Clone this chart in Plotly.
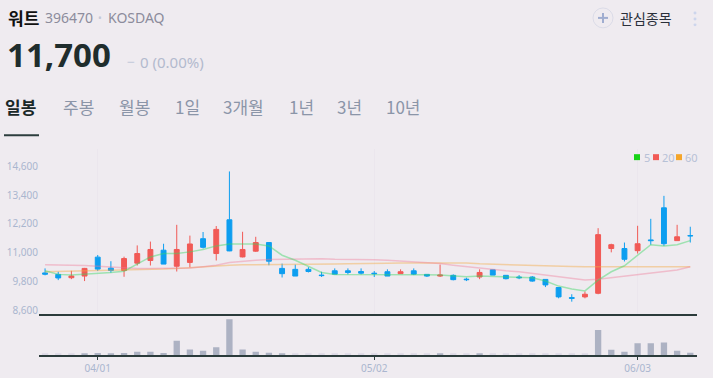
import plotly.graph_objects as go

W, H = 713, 378

# ---------------- data ----------------
dates = ["03/26", "03/27", "03/28", "03/29",
         "04/01", "04/02", "04/03", "04/04", "04/05", "04/08", "04/09", "04/11", "04/12",
         "04/15", "04/16", "04/17", "04/18", "04/19", "04/22", "04/23", "04/24", "04/25",
         "04/26", "04/29", "04/30",
         "05/02", "05/03", "05/07", "05/08", "05/09", "05/10", "05/13", "05/14", "05/16",
         "05/17", "05/20", "05/21", "05/22", "05/23", "05/24", "05/27", "05/28", "05/29",
         "05/30", "05/31",
         "06/03", "06/04", "06/05", "06/07", "06/10"]

open_ = [10150, 10090, 9950, 10020, 10810, 10350, 10250, 10560, 10670, 11100,
         10430, 10590, 11580, 10960, 12370, 10820, 11060, 11420, 10340, 10300,
         10300, 10060, 10240, 10240, 10210, 10140, 10200, 10120, 10240, 10090,
         10020, 10050, 9890, 9980, 10280, 10050, 9980, 9980, 9880, 9540,
         9120, 9150, 9300, 11170, 11170, 11080, 11530, 12870, 11500, 11710]
high = [10340, 10200, 10240, 10360, 10900, 10640, 10830, 11300, 11460, 11370,
        12160, 11710, 11860, 12110, 14390, 11870, 11660, 11420, 10540, 10500,
        10390, 10200, 10340, 10340, 10340, 10230, 10300, 10300, 10340, 10090,
        10500, 10090, 9950, 10300, 10280, 10050, 10060, 10020, 9880, 9540,
        9260, 9370, 12020, 11370, 11420, 12120, 12410, 13370, 12160, 12080]
low = [10050, 9850, 9890, 9810, 10230, 10160, 9990, 10460, 10460, 10520,
       10210, 10380, 11170, 10670, 11060, 10800, 11030, 10470, 9960, 10020,
       10170, 9980, 10100, 10090, 10090, 9980, 10020, 10120, 10060, 9980,
       9980, 9840, 9810, 9890, 10060, 9880, 9890, 9780, 9560, 9090,
       8950, 9090, 9260, 11010, 10630, 10960, 11330, 11280, 11500, 11420]
close = [10100, 9940, 10020, 10340, 10310, 10250, 10750, 10960, 11130, 10520,
         11130, 11360, 11220, 11970, 11070, 11130, 11420, 10640, 10120, 10020,
         10210, 10040, 10100, 10170, 10140, 10120, 10020, 10200, 10100, 10020,
         10060, 9870, 9870, 10170, 10060, 9910, 9950, 9810, 9650, 9150,
         9090, 9260, 11750, 11330, 10720, 11370, 11500, 11370, 11660, 11700]

ma5 = [10240, 10090, 10060, 10090, 10140, 10170, 10225, 10540, 10820, 10960,
       10960, 11030, 11125, 11280, 11360, 11360, 11360, 11280, 10890, 10680,
       10410, 10170, 10090, 10090, 10100, 10100, 10100, 10100, 10100, 10070,
       10060, 10020, 9990, 10020, 10000, 9990, 9980, 9950, 9810, 9600,
       9480, 9400, 9850, 10200, 10450, 10890, 11330, 11280, 11330, 11500]
ma20 = [10490, 10490, 10470, 10460, 10430, 10390, 10360, 10340, 10340, 10340,
        10340, 10360, 10410, 10470, 10590, 10650, 10680, 10710, 10720, 10740,
        10740, 10740, 10720, 10720, 10710, 10700, 10680, 10650, 10630, 10600,
        10540, 10470, 10410, 10340, 10300, 10240, 10200, 10130, 10060, 9990,
        9920, 9850, 9890, 9950, 10030, 10060, 10130, 10200, 10270, 10410]
ma60 = [10200, 10210, 10210, 10230, 10230, 10240, 10250, 10270, 10290, 10310,
        10340, 10380, 10410, 10440, 10470, 10490, 10490, 10490, 10490, 10500,
        10500, 10510, 10520, 10530, 10530, 10540, 10560, 10570, 10570, 10570,
        10570, 10570, 10570, 10530, 10510, 10490, 10470, 10460, 10440, 10430,
        10420, 10410, 10410, 10410, 10410, 10410, 10410, 10410, 10410, 10410]

volume = [15000, 15000, 15000, 20000, 30000, 20000, 30000, 50000, 50000, 30000,
          215000, 85000, 65000, 120000, 540000, 85000, 50000, 35000, 20000, 15000,
          15000, 15000, 15000, 15000, 15000, 15000, 15000, 15000, 15000, 15000,
          20000, 15000, 15000, 20000, 15000, 15000, 15000, 15000, 15000, 15000,
          15000, 15000, 380000, 80000, 50000, 180000, 180000, 190000, 65000, 35000]

y_ticks = [8600, 9800, 11000, 12200, 13400, 14600]
x_ticks = ["04/01", "05/02", "06/03"]

# ---------------- style ----------------
BG = "#efebf0"
RED = "#f15a56"
BLUE = "#0d9ef0"
AXIS = "#2b3b3b"
TICKC = "#aab6cf"
KFONT = "Noto Sans CJK KR"


def px(x):
    return x / W


def py(y):
    return 1 - y / H


fig = go.Figure()

fig.add_trace(go.Candlestick(
    x=dates, open=open_, high=high, low=low, close=close,
    increasing=dict(line=dict(color=RED, width=1), fillcolor=RED),
    decreasing=dict(line=dict(color=BLUE, width=1), fillcolor=BLUE),
    whiskerwidth=0, xaxis="x", yaxis="y", showlegend=False, hoverinfo="skip"))

for vals, col in [(ma60, "rgba(244,170,70,0.45)"),
                  (ma20, "rgba(240,120,150,0.40)"),
                  (ma5, "rgba(60,215,100,0.45)")]:
    fig.add_trace(go.Scatter(x=dates, y=vals, mode="lines",
                             line=dict(color=col, width=1.5),
                             xaxis="x", yaxis="y", showlegend=False, hoverinfo="skip"))

vol_colors = ["#dcd9e6" if v <= 15000 else "#adb2c3" for v in volume]
fig.add_trace(go.Bar(x=dates, y=volume, marker=dict(color=vol_colors, line=dict(width=0)),
                     xaxis="x2", yaxis="y2", showlegend=False, hoverinfo="skip"))

xdom = [39 / W, 697 / W]
xrange_ = [-0.46, 49.51]

fig.update_layout(
    width=W, height=H,
    margin=dict(l=0, r=0, t=0, b=0),
    paper_bgcolor=BG, plot_bgcolor=BG,
    bargap=0.52, boxgap=0.47,
    font=dict(family=KFONT, color=TICKC),
    xaxis=dict(domain=xdom, type="category", range=xrange_, anchor="y",
               showticklabels=False, tickvals=x_ticks, showgrid=True,
               gridcolor="rgba(215,212,228,0.18)", showline=True, linecolor=AXIS,
               linewidth=1.5, rangeslider=dict(visible=False), zeroline=False,
               fixedrange=True),
    yaxis=dict(domain=[py(316), py(150)], range=[8421, 15319], anchor="x",
               tickvals=y_ticks, ticktext=[f"{v:,}" for v in y_ticks],
               showgrid=False, zeroline=False, showline=False,
               tickfont=dict(size=10, color=TICKC, family="Noto Sans"),
               fixedrange=True),
    xaxis2=dict(domain=xdom, type="category", range=xrange_, anchor="y2",
                tickvals=x_ticks, ticktext=x_ticks, ticks="outside", ticklen=3,
                tickcolor=AXIS, showline=True, linecolor=AXIS, linewidth=1.5,
                showgrid=False, zeroline=False,
                tickfont=dict(size=10, color=TICKC, family="Noto Sans"),
                fixedrange=True),
    yaxis2=dict(domain=[py(357), py(316)], range=[0, 615000], anchor="x2",
                showticklabels=False, showgrid=False, zeroline=False,
                showline=False, fixedrange=True),
)

ann = []


def text(x, y, s, size, color, bold=False, family=KFONT, anchor="left"):
    ann.append(dict(x=px(x), y=py(y), xref="paper", yref="paper", text=f"<b>{s}</b>" if bold else s,
                    showarrow=False, xanchor=anchor, yanchor="middle",
                    font=dict(size=size, color=color, family=family)))


# header
text(6, 18, "워트", 17, "#111111", bold=True)
text(43, 18, "396470", 14, "#8c8c9c", family="Noto Sans")
text(96, 18, "•", 10, "#c4c8d6", family="Noto Sans")
text(106, 18, "KOSDAQ", 14, "#8c8c9c", family="Noto Sans")
text(5, 55, "11,700", 33, "#1f2d2d", bold=True, family="Noto Sans")
text(125, 62, "−", 14, "#c4cadb", family="Noto Sans")
text(138, 62, "0 (0.00%)", 15, "#b3bace", family="Noto Sans")
text(618, 18, "관심종목", 14, "#2a2f3a")

# tabs
text(3, 107, "일봉", 17, "#1a2828", bold=True)
tabs = [(61, "주봉"), (117, "월봉"), (173, "1일"), (221, "3개월"), (287, "1년"), (335, "3년"), (384, "10년")]
for x, s in tabs:
    text(x, 107, s, 17, "#8b95a8")

# legend
text(642, 158, "5", 11, "#b7c1d6", family="Noto Sans")
text(660, 158, "20", 11, "#b7c1d6", family="Noto Sans")
text(683, 158, "60", 11, "#b7c1d6", family="Noto Sans")

fig.update_layout(annotations=ann)

shapes = []


def rect(x0, y0, x1, y1, color):
    shapes.append(dict(type="rect", xref="paper", yref="paper", x0=px(x0), x1=px(x1),
                       y0=py(y1), y1=py(y0), fillcolor=color, line=dict(width=0)))


rect(634, 155, 640, 161, "#17d317")
rect(653, 155, 659, 161, "#f15a56")
rect(676, 155, 682, 161, "#f5a52a")

# tab underline
shapes.append(dict(type="line", xref="paper", yref="paper", x0=px(4), x1=px(39),
                   y0=py(136), y1=py(136), line=dict(color="#2c3e3e", width=2)))

# plus icon
shapes.append(dict(type="circle", xref="paper", yref="paper", x0=px(593), x1=px(613),
                   y0=py(28), y1=py(8), line=dict(color="rgba(205,208,225,0.6)", width=1)))
shapes.append(dict(type="line", xref="paper", yref="paper", x0=px(598), x1=px(608),
                   y0=py(18), y1=py(18), line=dict(color="#a0add0", width=2)))
shapes.append(dict(type="line", xref="paper", yref="paper", x0=px(603), x1=px(603),
                   y0=py(13), y1=py(23), line=dict(color="#a0add0", width=2)))
# kebab dots
for yy in (13, 19, 25):
    shapes.append(dict(type="circle", xref="paper", yref="paper", x0=px(693.5), x1=px(696.5),
                       y0=py(yy + 1.5), y1=py(yy - 1.5), fillcolor="#cdd5ec",
                       line=dict(width=0)))

fig.update_layout(shapes=shapes)

fig.write_html("out.html", config={"displayModeBar": False})
